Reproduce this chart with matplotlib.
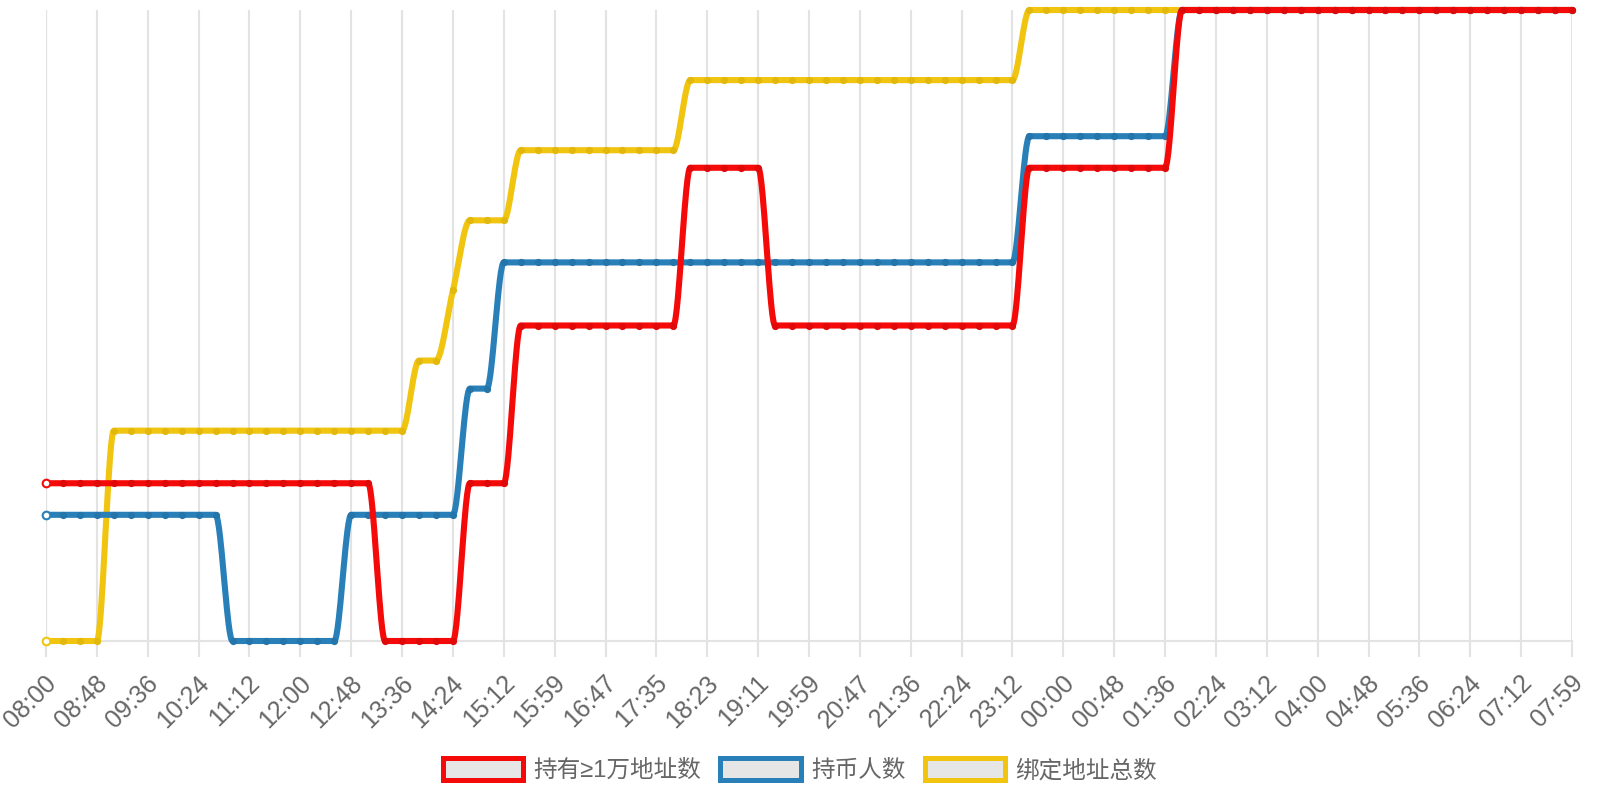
import numpy as np
import matplotlib
matplotlib.use('Agg')
import matplotlib.pyplot as plt
import matplotlib.transforms as mtransforms
from matplotlib.patches import Patch

plt.rcParams['font.family'] = ['Liberation Sans', 'Noto Sans CJK SC', 'DejaVu Sans']

# tick labels, one for every third sample
tick_labels = ['08:00', '08:48', '09:36', '10:24', '11:12', '12:00', '12:48', '13:36',
               '14:24', '15:12', '15:59', '16:47', '17:35', '18:23', '19:11', '19:59',
               '20:47', '21:36', '22:24', '23:12', '00:00', '00:48', '01:36', '02:24',
               '03:12', '04:00', '04:48', '05:36', '06:24', '07:12', '07:59']

# series values (91 samples each)
big_holders = ([1] * 20 + [0] * 5 + [1] * 3 + [2] * 10 + [3] * 5 + [2] * 15
               + [3] * 9 + [4] * 24)
holders = ([1] * 11 + [0] * 7 + [1] * 7 + [2] * 2 + [3] * 31 + [4] * 9 + [5] * 24)
bound_total = ([0] * 4 + [3] * 18 + [4] * 2 + [5] * 1 + [6] * 3 + [7] * 10
               + [8] * 20 + [9] * 33)

names = ['持有≥1万地址数', '持币人数', '绑定地址总数']
colors = ['#f50a0a', '#2980b9', '#f1c40f']
dot_colors = ['#e00909', '#2475aa', '#e2b80c']


# monotone cubic like chart.js
def monotone(x, y, per=30):
    x = np.asarray(x, float)
    y = np.asarray(y, float)
    n = len(x)
    d = np.diff(y) / np.diff(x)
    m = np.zeros(n)
    m[0] = d[0]
    m[-1] = d[-1]
    for i in range(1, n - 1):
        if np.sign(d[i - 1]) != np.sign(d[i]):
            m[i] = 0
        else:
            m[i] = (d[i - 1] + d[i]) / 2
    for i in range(n - 1):
        if d[i] == 0:
            m[i] = m[i + 1] = 0
            continue
        a = m[i] / d[i]
        b = m[i + 1] / d[i]
        s = a * a + b * b
        if s > 9:
            t = 3 / np.sqrt(s)
            m[i] = a * t * d[i]
            m[i + 1] = b * t * d[i]
    xs, ys = [], []
    for i in range(n - 1):
        h = x[i + 1] - x[i]
        t = np.linspace(0, 1, per, endpoint=False)
        h00 = 2 * t**3 - 3 * t**2 + 1
        h10 = t**3 - 2 * t**2 + t
        h01 = -2 * t**3 + 3 * t**2
        h11 = t**3 - t**2
        xs.append(x[i] + t * h)
        ys.append(h00 * y[i] + h10 * h * m[i] + h01 * y[i + 1] + h11 * h * m[i + 1])
    xs.append([x[-1]])
    ys.append([y[-1]])
    return np.concatenate(xs), np.concatenate(ys)


fig = plt.figure(figsize=(16, 8), dpi=100)
ax = fig.add_axes([46 / 1600, 1 - 641 / 800, 1526 / 1600, 631 / 800])
x = np.arange(len(big_holders))

series = [big_holders, holders, bound_total]
for k in [2, 1, 0]:
    vals = series[k]
    a = ax.twinx()
    a.set_ylim(min(vals), max(vals))
    a.axis('off')
    a.set_zorder(3 - k)
    xs, ys = monotone(x, vals)
    a.plot(xs, ys, color=colors[k], linewidth=4.4, solid_capstyle='round',
           clip_on=False)
    a.plot(x[1:], vals[1:], 'o', color=dot_colors[k], markersize=5.2,
           markeredgewidth=0, clip_on=False)
    a.plot(x[:1], vals[:1], 'o', markerfacecolor='white', markeredgecolor=colors[k],
           markersize=5.5, markeredgewidth=1.5, clip_on=False)

ax.set_xlim(0, len(x) - 1)
ax.set_ylim(0, 1)
ax.set_yticks([])
ax.set_xticks(x[::3])
ax.set_xticklabels(tick_labels, rotation=45, ha='right', rotation_mode='anchor',
                   fontsize=18, color='#666666')
ax.tick_params(axis='x', length=11.5, width=1.5, color='#e3e3e3', pad=10)
shift = mtransforms.ScaledTranslation(-1.5 / 100, 0, fig.dpi_scale_trans)
for lab in ax.get_xticklabels():
    lab.set_transform(lab.get_transform() + shift)
ax.grid(axis='x', color='#e3e3e3', linewidth=1.5)
ax.set_axisbelow(True)
for s in ['top', 'right', 'left']:
    ax.spines[s].set_visible(False)
ax.spines['bottom'].set_color('#e3e3e3')
ax.spines['bottom'].set_linewidth(1.5)
ax.axvline(0, color='#d0d0d0', linewidth=1.5, zorder=0)
ax.patch.set_visible(False)

handles = [Patch(facecolor='#e6e6e6', edgecolor=c, linewidth=3.6) for c in colors]
fig.legend(handles, names, loc='center', bbox_to_anchor=(0.5, 1 - 770 / 800),
           ncol=3, frameon=False, labelcolor='#666666',
           handlelength=3.4, handleheight=1.1, handletextpad=0.45, columnspacing=0.8,
           prop={'family': ['Liberation Sans', 'Noto Sans CJK SC', 'DejaVu Sans'],
                 'size': 17})

fig.savefig('out.png', dpi=100)
